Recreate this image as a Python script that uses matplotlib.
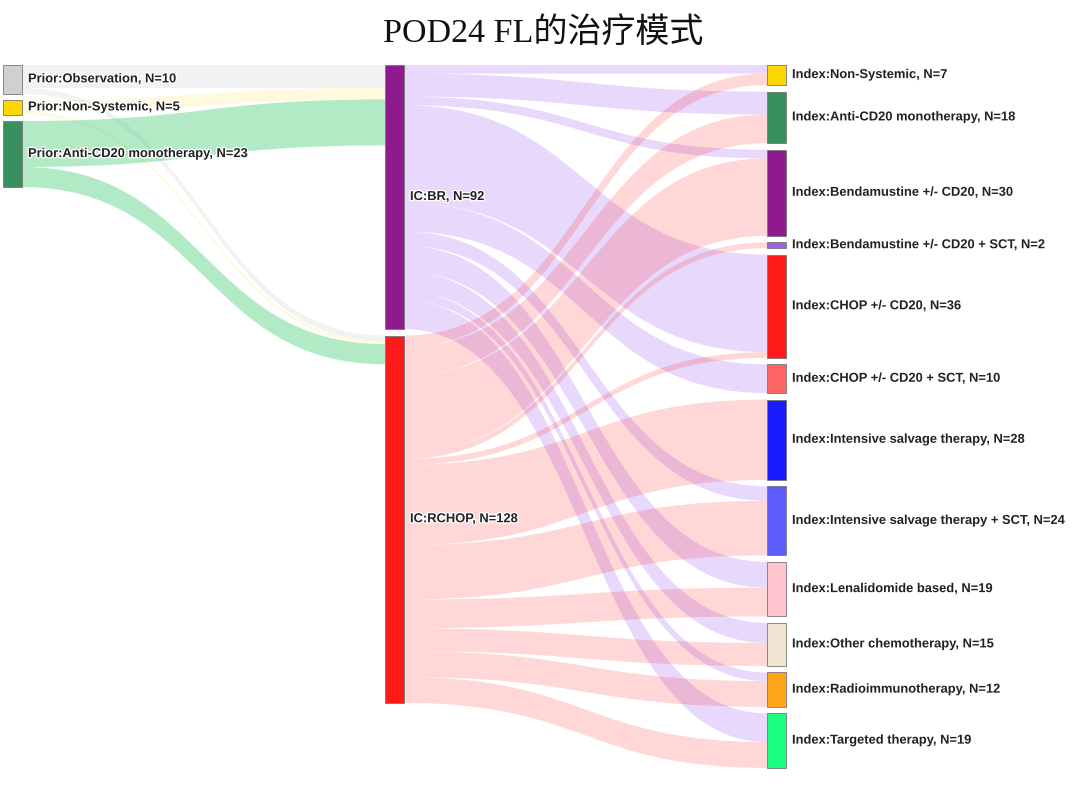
import matplotlib.pyplot as plt
from matplotlib.path import Path
from matplotlib.patches import PathPatch, Rectangle
import matplotlib.patheffects as pe

# nodes (three columns)
prior_labels = ['Prior:Observation', 'Prior:Non-Systemic', 'Prior:Anti-CD20 monotherapy']
ic_labels = ['IC:BR', 'IC:RCHOP']
index_labels = ['Index:Non-Systemic', 'Index:Anti-CD20 monotherapy',
                'Index:Bendamustine +/- CD20', 'Index:Bendamustine +/- CD20 + SCT',
                'Index:CHOP +/- CD20', 'Index:CHOP +/- CD20 + SCT',
                'Index:Intensive salvage therapy', 'Index:Intensive salvage therapy + SCT',
                'Index:Lenalidomide based', 'Index:Other chemotherapy',
                'Index:Radioimmunotherapy', 'Index:Targeted therapy']

# flows prior -> IC  (columns: BR, RCHOP)
prior_to_ic = [[8, 2],
               [4, 1],
               [16, 7]]
# flows IC -> index
br_to_index = [3, 8, 3, 0, 34, 10, 0, 5, 9, 7, 3, 10]
rchop_to_index = [4, 10, 27, 2, 2, 0, 28, 19, 10, 8, 9, 9]

prior_colors = ['#d0d0d0', '#ffd700', '#3a8f5f']
ic_colors = ['#8e1a8e', '#ff1a1a']
index_colors = ['#ffd700', '#3a8f5f', '#8e1a8e', '#9d5de6', '#ff1a1a', '#ff6464',
                '#1a1aff', '#5c5cff', '#ffc4cc', '#efe5d2', '#ffa51a', '#1aff80']
# link colours follow the source node
prior_link_colors = [(0.75, 0.75, 0.75, 0.2), (1.0, 0.84, 0.0, 0.13), (0.14, 0.77, 0.37, 0.35)]
ic_link_colors = [(0.55, 0.25, 0.92, 0.2), (1.0, 0.15, 0.15, 0.18)]

columns = [prior_labels, ic_labels, index_labels]
col_colors = [prior_colors, ic_colors, index_colors]
flows = [prior_to_ic, [br_to_index, rchop_to_index]]

# layout (pixels)
col_x = [3, 385, 767]
node_w = 19
top = 65
k = 2.87
pad = 6.5

# node values = max(in, out)
values = []
for c, labels in enumerate(columns):
    vals = []
    for i in range(len(labels)):
        out_v = sum(flows[c][i]) if c < 2 else 0
        in_v = sum(flows[c - 1][j][i] for j in range(len(columns[c - 1]))) if c > 0 else 0
        vals.append(max(out_v, in_v))
    values.append(vals)

ys = []
for vals in values:
    y = top
    pos = []
    for v in vals:
        pos.append(y)
        y += v * k + pad
    ys.append(pos)

fig = plt.figure(figsize=(10.8, 7.91), dpi=100)
ax = fig.add_axes([0, 0, 1, 1])
ax.set_xlim(0, 1080)
ax.set_ylim(791, 0)
ax.axis('off')

link_cols = [prior_link_colors, ic_link_colors]
for c in range(2):
    src_n = len(columns[c])
    tgt_n = len(columns[c + 1])
    # source offsets: ordered by target
    s_off = {}
    for i in range(src_n):
        y = ys[c][i]
        for j in range(tgt_n):
            v = flows[c][i][j]
            s_off[(i, j)] = y
            y += v * k
    # target offsets: ordered by source
    t_off = {}
    for j in range(tgt_n):
        y = ys[c + 1][j]
        for i in range(src_n):
            v = flows[c][i][j]
            t_off[(i, j)] = y
            y += v * k
    xs = col_x[c] + node_w
    xt = col_x[c + 1]
    xm = (xs + xt) / 2
    for i in range(src_n):
        for j in range(tgt_n):
            v = flows[c][i][j]
            if v == 0:
                continue
            s0, t0 = s_off[(i, j)], t_off[(i, j)]
            s1, t1 = s0 + v * k, t0 + v * k
            verts = [(xs, s0), (xm, s0), (xm, t0), (xt, t0),
                     (xt, t1), (xm, t1), (xm, s1), (xs, s1), (xs, s0)]
            codes = [Path.MOVETO, Path.CURVE4, Path.CURVE4, Path.CURVE4,
                     Path.LINETO, Path.CURVE4, Path.CURVE4, Path.CURVE4, Path.CLOSEPOLY]
            ax.add_patch(PathPatch(Path(verts, codes), facecolor=link_cols[c][i],
                                   edgecolor='none', zorder=1))

halo = [pe.withStroke(linewidth=2, foreground='white')]
for c, labels in enumerate(columns):
    for i, lab in enumerate(labels):
        h = values[c][i] * k
        ax.add_patch(Rectangle((col_x[c], ys[c][i]), node_w, h,
                               facecolor=col_colors[c][i], edgecolor='#777777',
                               linewidth=0.6, zorder=3))
        ax.text(col_x[c] + node_w + 6, ys[c][i] + h / 2,
                f'{lab}, N={values[c][i]}', ha='left', va='center',
                fontsize=9.3, fontweight='bold', family='Liberation Sans',
                color='#222222', path_effects=halo, zorder=4)

fig.text(543 / 1080, 1 - 33 / 791, 'POD24 FL的治疗模式', ha='center', va='center',
         fontsize=24.5, family=['Liberation Serif', 'Noto Sans CJK SC'], color='#111111')

fig.savefig('out.png', dpi=100)
